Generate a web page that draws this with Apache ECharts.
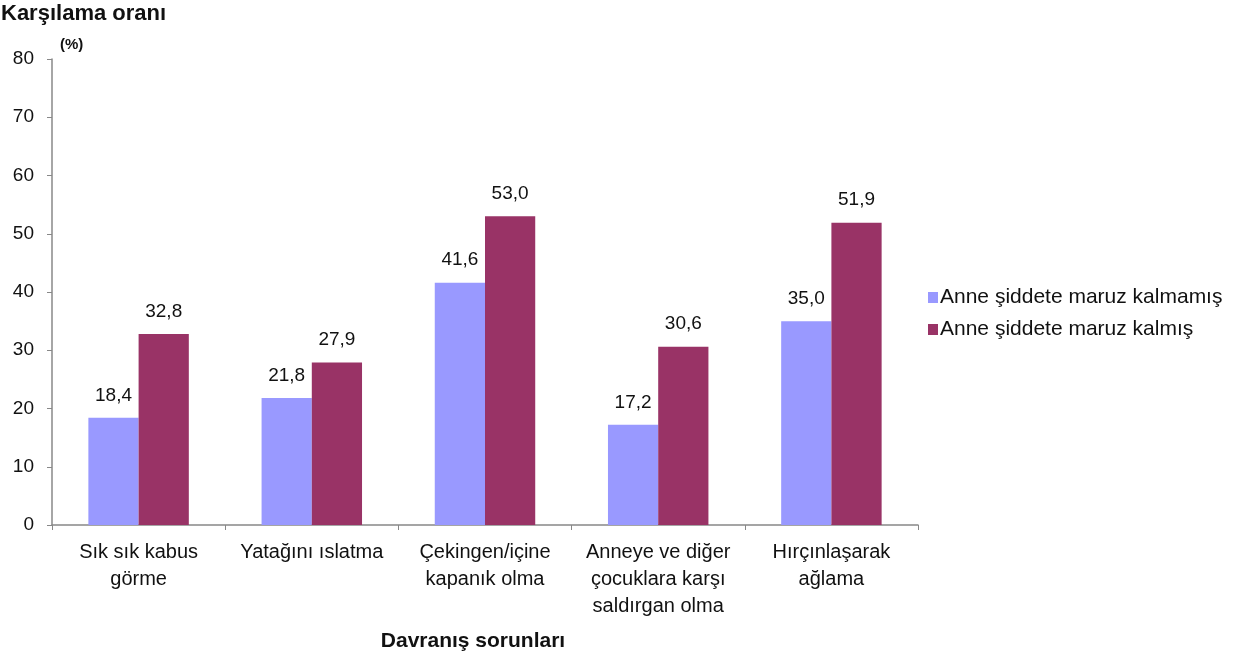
<!DOCTYPE html>
<html>
<head>
<meta charset="utf-8">
<script src="https://cdn.jsdelivr.net/npm/echarts@6/dist/echarts.min.js"></script>
<style>html,body{margin:0;padding:0;background:#fff}#c{width:1235px;height:661px}</style>
</head>
<body>
<div id="c"></div>
<script>
const categories = ["Sık sık kabus\ngörme", "Yatağını ıslatma", "Çekingen/içine\nkapanık olma", "Anneye ve diğer\nçocuklara karşı\nsaldırgan olma", "Hırçınlaşarak\nağlama"];
const seriesNames = ["Anne şiddete maruz kalmamış", "Anne şiddete maruz kalmış"];
const notExposed = [18.4, 21.8, 41.6, 17.2, 35.0];
const exposed = [32.8, 27.9, 53.0, 30.6, 51.9];
const colors = ["#9999FF", "#993366"];
const font = "'Liberation Sans', Arial, sans-serif";

const chart = echarts.init(document.getElementById('c'));
const labelFmt = p => p.value.toFixed(1).replace('.', ',');
chart.setOption({
  animation: false,
  textStyle: { fontFamily: font },
  title: [
    { text: "Karşılama oranı", left: 1, top: 3, padding: 0, textStyle: { fontFamily: font, fontSize: 22, fontWeight: 'bold', color: '#111' } },
    { text: "(%)", left: 60, top: 37, padding: 0, textStyle: { fontFamily: font, fontSize: 15, fontWeight: 'bold', color: '#111' } },
    { text: "Davranış sorunları", left: 473, top: 631, padding: 0, textAlign: 'center', textStyle: { fontFamily: font, fontSize: 21, fontWeight: 'bold', color: '#111' } }
  ],
  legend: {
    orient: 'vertical', left: 928, top: 287, padding: 0, icon: 'rect', itemWidth: 10, itemHeight: 11, itemGap: 11,
    textStyle: { fontFamily: font, fontSize: 21, color: '#111', padding: [0, 0, 0, -3] },
    data: seriesNames
  },
  grid: { left: 52, right: 317, top: 59, bottom: 136, containLabel: false },
  xAxis: {
    type: 'category', data: categories,
    axisLine: { lineStyle: { color: '#888', width: 1.5 } },
    axisTick: { show: true, length: 5, lineStyle: { color: '#888' } },
    axisLabel: { fontFamily: font, fontSize: 20, color: '#111', margin: 14, lineHeight: 27, interval: 0 }
  },
  yAxis: {
    type: 'value', min: 0, max: 80, interval: 10,
    axisLine: { show: true, lineStyle: { color: '#888', width: 1.5 } },
    axisTick: { show: true, length: 5, lineStyle: { color: '#888' } },
    splitLine: { show: false },
    axisLabel: { fontFamily: font, fontSize: 19, color: '#111', margin: 18 }
  },
  series: [
    { name: seriesNames[0], type: 'bar', data: notExposed, itemStyle: { color: colors[0] }, barGap: '0%', barCategoryGap: '42%',
      label: { show: true, position: 'top', distance: 13, fontFamily: font, fontSize: 19, color: '#111', formatter: labelFmt } },
    { name: seriesNames[1], type: 'bar', data: exposed, itemStyle: { color: colors[1] }, barGap: '0%', barCategoryGap: '42%',
      label: { show: true, position: 'top', distance: 13, fontFamily: font, fontSize: 19, color: '#111', formatter: labelFmt } }
  ]
});
</script>
</body>
</html>
